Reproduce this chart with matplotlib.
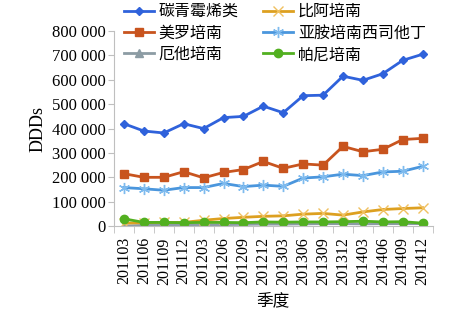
import matplotlib.pyplot as plt
import numpy as np
from matplotlib.ticker import FuncFormatter

plt.rcParams['font.family'] = ['Liberation Serif', 'Noto Sans CJK SC']

quarters = ['201103', '201106', '201109', '201112', '201203', '201206', '201209', '201212',
            '201303', '201306', '201309', '201312', '201403', '201406', '201409', '201412']

carbapenems = [420000, 390000, 382000, 420000, 400000, 445000, 450000, 492000,
               465000, 535000, 537000, 615000, 598000, 625000, 680000, 705000]
meropenem = [215000, 200000, 200000, 223000, 198000, 220000, 232000, 265000,
             237000, 255000, 250000, 327000, 305000, 315000, 355000, 360000]
ertapenem = [0, 3000, 5000, 5000, 5000, 6000, 7000, 8000,
             8000, 9000, 10000, 10000, 9000, 10000, 10000, 10000]
biapenem = [12000, 14000, 15000, 15000, 24000, 31000, 36000, 40000,
            42000, 49000, 52000, 45000, 58000, 68000, 72000, 75000]
imipenem = [158000, 153000, 147000, 158000, 158000, 175000, 162000, 168000,
            163000, 197000, 202000, 213000, 207000, 222000, 225000, 245000]
panipenem = [30000, 15000, 15000, 14000, 15000, 15000, 14000, 17000,
             16000, 17000, 17000, 18000, 20000, 17000, 18000, 12000]

fig = plt.figure(figsize=(4.72, 3.14), dpi=100)
ax = fig.add_axes([0.2415, 0.28, 0.675, 0.621])
x = np.arange(len(quarters))

l1, = ax.plot(x, carbapenems, color='#2F62DB', lw=2, marker='D', ms=4, label='碳青霉烯类')
l2, = ax.plot(x, meropenem, color='#C8541E', lw=2, marker='s', ms=6, label='美罗培南')
l3, = ax.plot(x, ertapenem, color='#8C9CA4', lw=2, marker='^', ms=6, label='厄他培南')
l4, = ax.plot(x, biapenem, color='#DDA020', lw=2, marker='x', ms=7, mew=1,
              mec='#F0C060', label='比阿培南')
l5, = ax.plot(x, imipenem, color='#4A96DD', lw=2, marker=(6, 2, 0), ms=8, mew=1,
              mec='#7FBBEE', label='亚胺培南西司他丁')
l6, = ax.plot(x, panipenem, color='#52B020', lw=2, marker='o', ms=6, label='帕尼培南')
ax.set_zorder(1)

ax.set_xlim(-0.5, len(quarters) - 0.5)
ax.set_ylim(0, 800000)
ax.set_yticks(np.arange(0, 800001, 100000))
ax.yaxis.set_major_formatter(FuncFormatter(lambda v, p: f'{int(v):,}'.replace(',', ' ')))
ax.set_xticks(x)
ax.set_xticklabels(quarters, rotation=90, fontsize=11.5)
ax.set_xticks(np.arange(-0.5, len(quarters), 1), minor=True)
ax.tick_params(axis='x', which='major', length=0, pad=8)
ax.tick_params(axis='x', which='minor', length=5, color='#BFBFBF')
ax.tick_params(axis='y', labelsize=12, length=4, color='#BFBFBF', pad=2)

for s in ['top', 'right']:
    ax.spines[s].set_visible(False)
for s in ['left', 'bottom']:
    ax.spines[s].set_color('#BFBFBF')

ax.set_ylabel('DDDs', fontsize=13, labelpad=4)
ax.set_xlabel('季度', fontsize=12, family=['Noto Sans CJK SC'], labelpad=5)

leg_kw = dict(loc='upper left', frameon=False,
              prop={'family': 'Noto Sans CJK SC', 'size': 11.5},
              handlelength=1.9, handletextpad=0.3, labelspacing=0.28,
              borderaxespad=0, borderpad=0)
leg1 = fig.legend(handles=[l1, l2, l3], bbox_to_anchor=(0.262, 0.99), **leg_kw)
leg2 = fig.legend(handles=[l4, l5, l6], bbox_to_anchor=(0.557, 0.99), **leg_kw)

fig.savefig('out.png', dpi=100)
